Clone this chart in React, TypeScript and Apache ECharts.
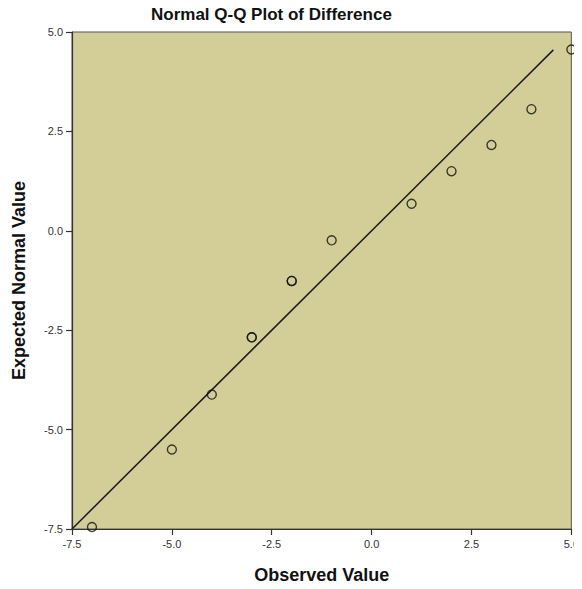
import React, { useEffect, useRef } from "react";
import * as echarts from "echarts";

const observed = [-7, -5, -4, -3, -3, -2, -2, -1, 1, 2, 3, 4, 5];
const expected = [-7.45, -5.5, -4.12, -2.68, -2.68, -1.26, -1.26, -0.24, 0.68, 1.5, 2.16, 3.06, 4.56];
const lineX = [-7.5, 4.55];
const axisTicks = { min: -7.5, max: 5, interval: 2.5 };

export default function App() {
  const ref = useRef<HTMLDivElement>(null);
  useEffect(() => {
    if (!ref.current) return;
    const chart = echarts.init(ref.current, null, { renderer: "svg" });
    const font = "'Liberation Sans', Arial, sans-serif";
    const axisCommon = {
      type: "value" as const,
      min: axisTicks.min,
      max: axisTicks.max,
      interval: axisTicks.interval,
      splitLine: { show: false },
      axisLine: { show: true, onZero: false, lineStyle: { color: "#333", width: 1.2 } },
      axisTick: { show: true, length: 6, lineStyle: { color: "#333", width: 1.2 } },
      axisLabel: {
        color: "#333",
        fontSize: 11,
        fontFamily: font,
        margin: 9,
        formatter: (v: number) => v.toFixed(1),
      },
      nameLocation: "middle" as const,
      nameTextStyle: { color: "#111", fontSize: 18, fontWeight: "bold" as const, fontFamily: font },
    };
    chart.setOption({
      animation: false,
      backgroundColor: "#ffffff",
      title: {
        text: "Normal Q-Q Plot of Difference",
        left: 146,
        top: 1,
        textStyle: { color: "#111", fontSize: 17, fontWeight: "bold", fontFamily: font },
      },
      grid: {
        left: 72,
        top: 32,
        width: 501,
        height: 502,
        show: true,
        backgroundColor: "#D3CE98",
        borderColor: "#555",
        borderWidth: 1,
      },
      xAxis: {
        ...axisCommon,
        name: "Observed Value",
        nameGap: 37,
      },
      yAxis: {
        ...axisCommon,
        name: "Expected Normal Value",
        nameGap: 44,
      },
      series: [
        {
          type: "line",
          data: lineX.map((v) => [v, v]),
          showSymbol: false,
          symbol: "none",
          lineStyle: { color: "#1a1a1a", width: 1.5 },
          z: 2,
        },
        {
          type: "scatter",
          data: observed.map((x, i) => [x, expected[i]]),
          symbol: "circle",
          symbolSize: 9,
          itemStyle: { color: "rgba(0,0,0,0)", borderColor: "#111", borderWidth: 1.4 },
          clip: true,
          z: 3,
        },
      ],
    });
    return () => chart.dispose();
  }, []);
  return <div ref={ref} style={{ width: 582, height: 589, marginLeft: -8, marginTop: -8 }} />;
}
